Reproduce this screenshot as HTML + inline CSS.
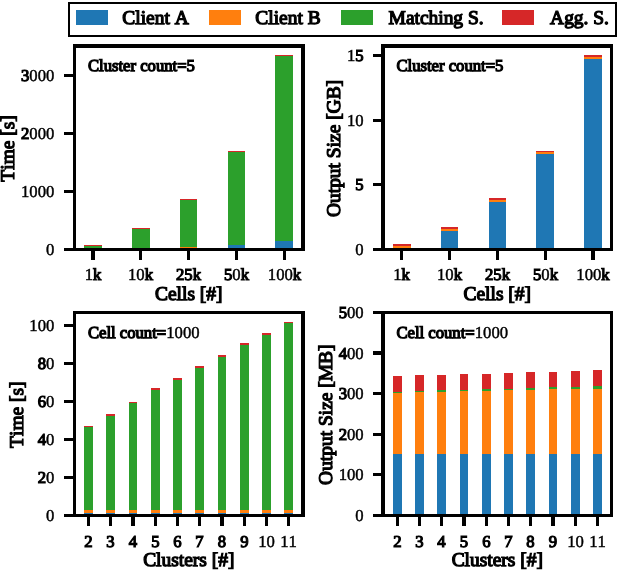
<!DOCTYPE html>
<html><head><meta charset="utf-8"><title>chart</title>
<style>
html,body{margin:0;padding:0;background:#fff;}
svg{display:block;will-change:transform;}
text{font-family:"Liberation Serif",serif;fill:#000;stroke:#000;stroke-width:1.25px;font-kerning:none;text-rendering:geometricPrecision;}
rect{shape-rendering:crispEdges;}
.k{stroke-width:1.15px;}
.t{stroke-width:0.45px;}
</style></head><body>
<svg width="618" height="573" viewBox="0 0 618 573">
<rect x="0" y="0" width="618" height="573" fill="#fff"/>
<rect x="68" y="2" width="549" height="35" fill="#000"/>
<rect x="70" y="4" width="545" height="31" fill="#fff"/>
<rect x="76" y="10" width="32" height="15" fill="#1f77b4"/>
<text x="122.3" y="23.6" font-size="19.44" text-anchor="start">Client A</text>
<rect x="209" y="10" width="32" height="15" fill="#ff7f0e"/>
<text x="255.3" y="23.6" font-size="19.44" text-anchor="start">Client B</text>
<rect x="341" y="10" width="32" height="15" fill="#2ca02c"/>
<text x="388.6" y="23.6" font-size="19.44" text-anchor="start">Matching S.</text>
<rect x="502" y="10" width="32" height="15" fill="#d62728"/>
<text x="550.1" y="23.6" font-size="19.44" text-anchor="start">Agg. S.</text>
<rect x="84" y="246" width="18" height="3.5" fill="#2ca02c"/>
<rect x="84" y="245" width="18" height="1" fill="#d62728"/>
<rect x="132" y="229" width="18" height="20.5" fill="#2ca02c"/>
<rect x="132" y="228" width="18" height="1" fill="#d62728"/>
<rect x="180" y="247" width="17" height="2.5" fill="#ff7f0e"/>
<rect x="180" y="200" width="17" height="47" fill="#2ca02c"/>
<rect x="180" y="199" width="17" height="1" fill="#d62728"/>
<rect x="228" y="245" width="17" height="4.5" fill="#1f77b4"/>
<rect x="228" y="152" width="17" height="93" fill="#2ca02c"/>
<rect x="228" y="151" width="17" height="1" fill="#d62728"/>
<rect x="275" y="241" width="18" height="8.5" fill="#1f77b4"/>
<rect x="275" y="56" width="18" height="185" fill="#2ca02c"/>
<rect x="275" y="55" width="18" height="1" fill="#d62728"/>
<rect x="64" y="248" width="10" height="3" fill="#000"/>
<text x="54.3" y="255.2" font-size="16.67" text-anchor="end" class="k"><tspan class="t">0</tspan></text>
<rect x="64" y="190" width="10" height="3" fill="#000"/>
<text x="54.3" y="197.2" font-size="16.67" text-anchor="end" class="k"><tspan class="t">1000</tspan></text>
<rect x="64" y="132" width="10" height="3" fill="#000"/>
<text x="54.3" y="139.2" font-size="16.67" text-anchor="end" class="k">2<tspan class="t">000</tspan></text>
<rect x="64" y="74" width="10" height="3" fill="#000"/>
<text x="54.3" y="81.2" font-size="16.67" text-anchor="end" class="k">3<tspan class="t">000</tspan></text>
<rect x="91" y="250" width="4" height="10" fill="#000"/>
<text x="93" y="279.8" font-size="16.67" text-anchor="middle" class="k"><tspan class="t">1</tspan>k</text>
<rect x="139" y="250" width="3" height="10" fill="#000"/>
<text x="140.5" y="279.8" font-size="16.67" text-anchor="middle" class="k"><tspan class="t">10</tspan>k</text>
<rect x="187" y="250" width="3" height="10" fill="#000"/>
<text x="188.5" y="279.8" font-size="16.67" text-anchor="middle" class="k">25k</text>
<rect x="235" y="250" width="3" height="10" fill="#000"/>
<text x="236.5" y="279.8" font-size="16.67" text-anchor="middle" class="k">5<tspan class="t">0</tspan>k</text>
<rect x="283" y="250" width="3" height="10" fill="#000"/>
<text x="284.5" y="279.8" font-size="16.67" text-anchor="middle" class="k"><tspan class="t">100</tspan>k</text>
<rect x="73" y="44" width="232" height="4" fill="#000"/>
<rect x="73" y="248" width="232" height="3" fill="#000"/>
<rect x="73" y="44" width="3" height="207" fill="#000"/>
<rect x="301" y="44" width="4" height="207" fill="#000"/>
<text x="188.75" y="300.2" font-size="19.44" text-anchor="middle">Cells [#]</text>
<text x="14.3" y="148.45" font-size="19.44" text-anchor="middle" transform="rotate(-90 14.3 148.45)">Time [s]</text>
<text x="87.9" y="71.2" font-size="16.67" text-anchor="start">Cluster count=5</text>
<rect x="393" y="246" width="18" height="3.5" fill="#ff7f0e"/>
<rect x="393" y="244" width="18" height="2" fill="#d62728"/>
<rect x="441" y="231" width="17" height="18.5" fill="#1f77b4"/>
<rect x="441" y="229" width="17" height="2" fill="#ff7f0e"/>
<rect x="441" y="227" width="17" height="2" fill="#d62728"/>
<rect x="489" y="202.4" width="17" height="47.1" fill="#1f77b4"/>
<rect x="489" y="200" width="17" height="2.4" fill="#ff7f0e"/>
<rect x="489" y="198" width="17" height="2" fill="#d62728"/>
<rect x="536" y="154" width="18" height="95.5" fill="#1f77b4"/>
<rect x="536" y="152.2" width="18" height="1.8" fill="#ff7f0e"/>
<rect x="536" y="151" width="18" height="1.2" fill="#d62728"/>
<rect x="584" y="59" width="18" height="190.5" fill="#1f77b4"/>
<rect x="584" y="57" width="18" height="2" fill="#ff7f0e"/>
<rect x="584" y="55" width="18" height="2" fill="#d62728"/>
<rect x="373" y="248" width="9" height="3" fill="#000"/>
<text x="363.7" y="255.2" font-size="16.67" text-anchor="end" class="k"><tspan class="t">0</tspan></text>
<rect x="373" y="183" width="9" height="3" fill="#000"/>
<text x="363.7" y="190.2" font-size="16.67" text-anchor="end" class="k">5</text>
<rect x="373" y="119" width="9" height="3" fill="#000"/>
<text x="363.7" y="126.2" font-size="16.67" text-anchor="end" class="k"><tspan class="t">10</tspan></text>
<rect x="373" y="54" width="9" height="3" fill="#000"/>
<text x="363.7" y="61.2" font-size="16.67" text-anchor="end" class="k"><tspan class="t">1</tspan>5</text>
<rect x="400" y="250" width="3" height="10" fill="#000"/>
<text x="401.5" y="279.8" font-size="16.67" text-anchor="middle" class="k"><tspan class="t">1</tspan>k</text>
<rect x="448" y="250" width="3" height="10" fill="#000"/>
<text x="449.5" y="279.8" font-size="16.67" text-anchor="middle" class="k"><tspan class="t">10</tspan>k</text>
<rect x="496" y="250" width="3" height="10" fill="#000"/>
<text x="497.5" y="279.8" font-size="16.67" text-anchor="middle" class="k">25k</text>
<rect x="544" y="250" width="3" height="10" fill="#000"/>
<text x="545.5" y="279.8" font-size="16.67" text-anchor="middle" class="k">5<tspan class="t">0</tspan>k</text>
<rect x="591" y="250" width="4" height="10" fill="#000"/>
<text x="593" y="279.8" font-size="16.67" text-anchor="middle" class="k"><tspan class="t">100</tspan>k</text>
<rect x="381" y="44" width="232" height="4" fill="#000"/>
<rect x="381" y="248" width="232" height="3" fill="#000"/>
<rect x="381" y="44" width="4" height="207" fill="#000"/>
<rect x="610" y="44" width="3" height="207" fill="#000"/>
<text x="497.25" y="300.2" font-size="19.44" text-anchor="middle">Cells [#]</text>
<text x="340.5" y="148.45" font-size="19.44" text-anchor="middle" transform="rotate(-90 340.5 148.45)">Output Size [GB]</text>
<text x="396.4" y="71.2" font-size="16.67" text-anchor="start">Cluster count=5</text>
<rect x="84" y="513" width="9" height="2.5" fill="#1f77b4"/>
<rect x="84" y="510" width="9" height="3" fill="#ff7f0e"/>
<rect x="84" y="427" width="9" height="83" fill="#2ca02c"/>
<rect x="84" y="426" width="9" height="1" fill="#d62728"/>
<rect x="106" y="513" width="9" height="2.5" fill="#1f77b4"/>
<rect x="106" y="510" width="9" height="3" fill="#ff7f0e"/>
<rect x="106" y="416" width="9" height="94" fill="#2ca02c"/>
<rect x="106" y="414" width="9" height="2" fill="#d62728"/>
<rect x="129" y="513" width="8" height="2.5" fill="#1f77b4"/>
<rect x="129" y="510" width="8" height="3" fill="#ff7f0e"/>
<rect x="129" y="403" width="8" height="107" fill="#2ca02c"/>
<rect x="129" y="402" width="8" height="1" fill="#d62728"/>
<rect x="151" y="513" width="9" height="2.5" fill="#1f77b4"/>
<rect x="151" y="510" width="9" height="3" fill="#ff7f0e"/>
<rect x="151" y="390" width="9" height="120" fill="#2ca02c"/>
<rect x="151" y="388" width="9" height="2" fill="#d62728"/>
<rect x="173" y="513" width="9" height="2.5" fill="#1f77b4"/>
<rect x="173" y="510" width="9" height="3" fill="#ff7f0e"/>
<rect x="173" y="380" width="9" height="130" fill="#2ca02c"/>
<rect x="173" y="378" width="9" height="2" fill="#d62728"/>
<rect x="195" y="513" width="9" height="2.5" fill="#1f77b4"/>
<rect x="195" y="510" width="9" height="3" fill="#ff7f0e"/>
<rect x="195" y="368" width="9" height="142" fill="#2ca02c"/>
<rect x="195" y="366" width="9" height="2" fill="#d62728"/>
<rect x="218" y="513" width="8" height="2.5" fill="#1f77b4"/>
<rect x="218" y="510" width="8" height="3" fill="#ff7f0e"/>
<rect x="218" y="357" width="8" height="153" fill="#2ca02c"/>
<rect x="218" y="355" width="8" height="2" fill="#d62728"/>
<rect x="240" y="513" width="9" height="2.5" fill="#1f77b4"/>
<rect x="240" y="510" width="9" height="3" fill="#ff7f0e"/>
<rect x="240" y="345" width="9" height="165" fill="#2ca02c"/>
<rect x="240" y="343" width="9" height="2" fill="#d62728"/>
<rect x="262" y="513" width="9" height="2.5" fill="#1f77b4"/>
<rect x="262" y="510" width="9" height="3" fill="#ff7f0e"/>
<rect x="262" y="335" width="9" height="175" fill="#2ca02c"/>
<rect x="262" y="333" width="9" height="2" fill="#d62728"/>
<rect x="284" y="513" width="9" height="2.5" fill="#1f77b4"/>
<rect x="284" y="510" width="9" height="3" fill="#ff7f0e"/>
<rect x="284" y="323" width="9" height="187" fill="#2ca02c"/>
<rect x="284" y="322" width="9" height="1" fill="#d62728"/>
<rect x="64" y="514" width="10" height="3" fill="#000"/>
<text x="54.3" y="521.2" font-size="16.67" text-anchor="end" class="k"><tspan class="t">0</tspan></text>
<rect x="64" y="476" width="10" height="3" fill="#000"/>
<text x="54.3" y="483.2" font-size="16.67" text-anchor="end" class="k">2<tspan class="t">0</tspan></text>
<rect x="64" y="438" width="10" height="3" fill="#000"/>
<text x="54.3" y="445.2" font-size="16.67" text-anchor="end" class="k">4<tspan class="t">0</tspan></text>
<rect x="64" y="400" width="10" height="3" fill="#000"/>
<text x="54.3" y="407.2" font-size="16.67" text-anchor="end" class="k">6<tspan class="t">0</tspan></text>
<rect x="64" y="362" width="10" height="3" fill="#000"/>
<text x="54.3" y="369.2" font-size="16.67" text-anchor="end" class="k">8<tspan class="t">0</tspan></text>
<rect x="64" y="324" width="10" height="3" fill="#000"/>
<text x="54.3" y="331.2" font-size="16.67" text-anchor="end" class="k"><tspan class="t">100</tspan></text>
<rect x="87" y="516" width="3" height="10" fill="#000"/>
<text x="88.5" y="547" font-size="16.67" text-anchor="middle" class="k">2</text>
<rect x="109" y="516" width="3" height="10" fill="#000"/>
<text x="110.5" y="547" font-size="16.67" text-anchor="middle" class="k">3</text>
<rect x="131" y="516" width="4" height="10" fill="#000"/>
<text x="133" y="547" font-size="16.67" text-anchor="middle" class="k">4</text>
<rect x="154" y="516" width="3" height="10" fill="#000"/>
<text x="155.5" y="547" font-size="16.67" text-anchor="middle" class="k">5</text>
<rect x="176" y="516" width="3" height="10" fill="#000"/>
<text x="177.5" y="547" font-size="16.67" text-anchor="middle" class="k">6</text>
<rect x="198" y="516" width="3" height="10" fill="#000"/>
<text x="199.5" y="547" font-size="16.67" text-anchor="middle" class="k">7</text>
<rect x="220" y="516" width="4" height="10" fill="#000"/>
<text x="222" y="547" font-size="16.67" text-anchor="middle" class="k">8</text>
<rect x="243" y="516" width="3" height="10" fill="#000"/>
<text x="244.5" y="547" font-size="16.67" text-anchor="middle" class="k">9</text>
<rect x="265" y="516" width="3" height="10" fill="#000"/>
<text x="266.5" y="547" font-size="16.67" text-anchor="middle" class="k"><tspan class="t">10</tspan></text>
<rect x="287" y="516" width="3" height="10" fill="#000"/>
<text x="288.5" y="547" font-size="16.67" text-anchor="middle" class="k"><tspan class="t">11</tspan></text>
<rect x="73" y="311" width="232" height="3" fill="#000"/>
<rect x="73" y="514" width="232" height="3" fill="#000"/>
<rect x="73" y="311" width="3" height="206" fill="#000"/>
<rect x="301" y="311" width="4" height="206" fill="#000"/>
<text x="188.75" y="566" font-size="19.44" text-anchor="middle">Clusters [#]</text>
<text x="22.9" y="414.7" font-size="19.44" text-anchor="middle" transform="rotate(-90 22.9 414.7)">Time [s]</text>
<text x="87.9" y="337.7" font-size="16.67" text-anchor="start">Cell count=<tspan class="t">1000</tspan></text>
<rect x="393" y="454" width="9" height="61.5" fill="#1f77b4"/>
<rect x="393" y="393" width="9" height="61" fill="#ff7f0e"/>
<rect x="393" y="392" width="9" height="1" fill="#2ca02c"/>
<rect x="393" y="376" width="9" height="16" fill="#d62728"/>
<rect x="415" y="454" width="9" height="61.5" fill="#1f77b4"/>
<rect x="415" y="391.8" width="9" height="62.2" fill="#ff7f0e"/>
<rect x="415" y="390.7" width="9" height="1.1" fill="#2ca02c"/>
<rect x="415" y="375" width="9" height="15.7" fill="#d62728"/>
<rect x="437" y="454" width="9" height="61.5" fill="#1f77b4"/>
<rect x="437" y="391.8" width="9" height="62.2" fill="#ff7f0e"/>
<rect x="437" y="390.1" width="9" height="1.7" fill="#2ca02c"/>
<rect x="437" y="375" width="9" height="15.1" fill="#d62728"/>
<rect x="460" y="454" width="8" height="61.5" fill="#1f77b4"/>
<rect x="460" y="390.9" width="8" height="63.1" fill="#ff7f0e"/>
<rect x="460" y="389.9" width="8" height="1" fill="#2ca02c"/>
<rect x="460" y="374" width="8" height="15.9" fill="#d62728"/>
<rect x="482" y="454" width="9" height="61.5" fill="#1f77b4"/>
<rect x="482" y="390.9" width="9" height="63.1" fill="#ff7f0e"/>
<rect x="482" y="388.9" width="9" height="2" fill="#2ca02c"/>
<rect x="482" y="374" width="9" height="14.9" fill="#d62728"/>
<rect x="504" y="454" width="9" height="61.5" fill="#1f77b4"/>
<rect x="504" y="389.9" width="9" height="64.1" fill="#ff7f0e"/>
<rect x="504" y="388.9" width="9" height="1" fill="#2ca02c"/>
<rect x="504" y="373" width="9" height="15.9" fill="#d62728"/>
<rect x="526" y="454" width="9" height="61.5" fill="#1f77b4"/>
<rect x="526" y="389.9" width="9" height="64.1" fill="#ff7f0e"/>
<rect x="526" y="388" width="9" height="1.9" fill="#2ca02c"/>
<rect x="526" y="372" width="9" height="16" fill="#d62728"/>
<rect x="549" y="454" width="8" height="61.5" fill="#1f77b4"/>
<rect x="549" y="388.9" width="8" height="65.1" fill="#ff7f0e"/>
<rect x="549" y="387" width="8" height="1.9" fill="#2ca02c"/>
<rect x="549" y="372" width="8" height="15" fill="#d62728"/>
<rect x="571" y="454" width="9" height="61.5" fill="#1f77b4"/>
<rect x="571" y="388.9" width="9" height="65.1" fill="#ff7f0e"/>
<rect x="571" y="387" width="9" height="1.9" fill="#2ca02c"/>
<rect x="571" y="371" width="9" height="16" fill="#d62728"/>
<rect x="593" y="454" width="9" height="61.5" fill="#1f77b4"/>
<rect x="593" y="388.9" width="9" height="65.1" fill="#ff7f0e"/>
<rect x="593" y="386" width="9" height="2.9" fill="#2ca02c"/>
<rect x="593" y="370" width="9" height="16" fill="#d62728"/>
<rect x="373" y="514" width="9" height="3" fill="#000"/>
<text x="363.7" y="521.2" font-size="16.67" text-anchor="end" class="k"><tspan class="t">0</tspan></text>
<rect x="373" y="473" width="9" height="3" fill="#000"/>
<text x="363.7" y="480.2" font-size="16.67" text-anchor="end" class="k"><tspan class="t">100</tspan></text>
<rect x="373" y="433" width="9" height="3" fill="#000"/>
<text x="363.7" y="440.2" font-size="16.67" text-anchor="end" class="k">2<tspan class="t">00</tspan></text>
<rect x="373" y="392" width="9" height="3" fill="#000"/>
<text x="363.7" y="399.2" font-size="16.67" text-anchor="end" class="k">3<tspan class="t">00</tspan></text>
<rect x="373" y="351" width="9" height="4" fill="#000"/>
<text x="363.7" y="358.7" font-size="16.67" text-anchor="end" class="k">4<tspan class="t">00</tspan></text>
<rect x="373" y="311" width="9" height="3" fill="#000"/>
<text x="363.7" y="318.2" font-size="16.67" text-anchor="end" class="k">5<tspan class="t">00</tspan></text>
<rect x="396" y="516" width="3" height="10" fill="#000"/>
<text x="397.5" y="547" font-size="16.67" text-anchor="middle" class="k">2</text>
<rect x="418" y="516" width="3" height="10" fill="#000"/>
<text x="419.5" y="547" font-size="16.67" text-anchor="middle" class="k">3</text>
<rect x="440" y="516" width="3" height="10" fill="#000"/>
<text x="441.5" y="547" font-size="16.67" text-anchor="middle" class="k">4</text>
<rect x="462" y="516" width="4" height="10" fill="#000"/>
<text x="464" y="547" font-size="16.67" text-anchor="middle" class="k">5</text>
<rect x="485" y="516" width="3" height="10" fill="#000"/>
<text x="486.5" y="547" font-size="16.67" text-anchor="middle" class="k">6</text>
<rect x="507" y="516" width="3" height="10" fill="#000"/>
<text x="508.5" y="547" font-size="16.67" text-anchor="middle" class="k">7</text>
<rect x="529" y="516" width="3" height="10" fill="#000"/>
<text x="530.5" y="547" font-size="16.67" text-anchor="middle" class="k">8</text>
<rect x="551" y="516" width="4" height="10" fill="#000"/>
<text x="553" y="547" font-size="16.67" text-anchor="middle" class="k">9</text>
<rect x="574" y="516" width="3" height="10" fill="#000"/>
<text x="575.5" y="547" font-size="16.67" text-anchor="middle" class="k"><tspan class="t">10</tspan></text>
<rect x="596" y="516" width="3" height="10" fill="#000"/>
<text x="597.5" y="547" font-size="16.67" text-anchor="middle" class="k"><tspan class="t">11</tspan></text>
<rect x="381" y="311" width="232" height="3" fill="#000"/>
<rect x="381" y="514" width="232" height="3" fill="#000"/>
<rect x="381" y="311" width="4" height="206" fill="#000"/>
<rect x="610" y="311" width="3" height="206" fill="#000"/>
<text x="497.25" y="566" font-size="19.44" text-anchor="middle">Clusters [#]</text>
<text x="332.2" y="414.7" font-size="19.44" text-anchor="middle" transform="rotate(-90 332.2 414.7)">Output Size [MB]</text>
<text x="396.4" y="337.7" font-size="16.67" text-anchor="start">Cell count=<tspan class="t">1000</tspan></text>
</svg>
</body></html>
